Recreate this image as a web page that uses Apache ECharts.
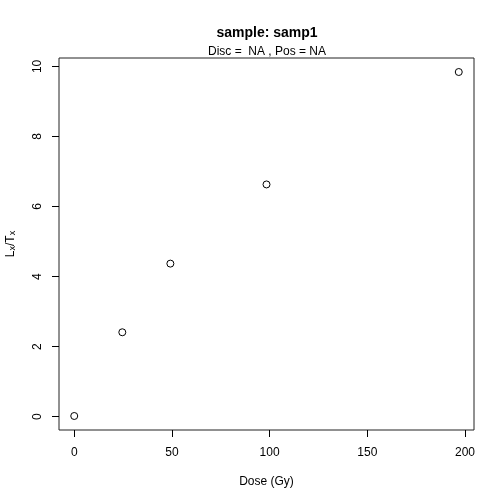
<!DOCTYPE html>
<html>
<head>
<meta charset="utf-8">
<script src="https://cdn.jsdelivr.net/npm/echarts@6/dist/echarts.min.js"></script>
<style>
html,body{margin:0;padding:0;background:#fff;}
#main{width:504px;height:504px;}
</style>
</head>
<body>
<div id="main"></div>
<script>
// dose points and Lx/Tx values
var dose = [0, 24.6, 49.2, 98.4, 196.8];
var ltx = [0.02, 2.41, 4.37, 6.63, 9.84];
var xTicks = [0, 50, 100, 150, 200];
var yTicks = [0, 2, 4, 6, 8, 10];

var font = 'Liberation Sans, Arial, Helvetica, sans-serif';
var myChart = echarts.init(document.getElementById('main'));

var pts = [];
for (var i = 0; i < dose.length; i++) {
	pts.push([dose[i], ltx[i]]);
}

var option = {
	animation: false,
	backgroundColor: '#fff',
	title: [
		{
			text: 'sample: samp1',
			left: 262, top: 21, textAlign: 'center',
			textStyle: {fontFamily: font, fontSize: 14, fontWeight: 'bold', color: '#000'}
		},
		{
			text: 'Disc =  NA , Pos = NA',
			left: 262, top: 41, textAlign: 'center',
			textStyle: {fontFamily: font, fontSize: 12, fontWeight: 'normal', color: '#000'}
		}
	],
	grid: {
		left: 59, right: 30, top: 58, bottom: 74,
		outerBoundsMode: 'none',
		containLabel: false,
		show: true, borderColor: '#222', borderWidth: 1, backgroundColor: 'transparent'
	},
	xAxis: {
		type: 'value',
		min: -7.8, max: 204.6,
		name: 'Dose (Gy)',
		nameLocation: 'middle',
		nameGap: 46,
		nameTextStyle: {fontFamily: font, fontSize: 12, color: '#000'},
		splitLine: {show: false},
		axisLine: {show: false, onZero: false},
		axisTick: {show: true, inside: false, length: 7, lineStyle: {color: '#000'}, customValues: xTicks},
		axisLabel: {fontFamily: font, fontSize: 12, color: '#000', margin: 17, customValues: xTicks}
	},
	yAxis: {
		type: 'value',
		min: -0.38, max: 10.24,
		name: '{a|L}{s|x}{a|/T}{s|x}',
		nameLocation: 'middle',
		nameGap: 42,
		nameRotate: 90,
		nameTextStyle: {
			fontFamily: font, color: '#000',
			rich: {
				a: {fontFamily: font, fontSize: 12, color: '#000', verticalAlign: 'bottom', lineHeight: 16},
				s: {fontFamily: font, fontSize: 9, color: '#000', verticalAlign: 'bottom', lineHeight: 12}
			}
		},
		splitLine: {show: false},
		axisLine: {show: false, onZero: false},
		axisTick: {show: true, inside: false, length: 7, lineStyle: {color: '#000'}, customValues: yTicks},
		axisLabel: {fontFamily: font, fontSize: 12, color: '#000', rotate: 90, margin: 15, customValues: yTicks}
	},
	series: [
		{
			type: 'scatter',
			data: pts,
			symbol: 'circle',
			symbolSize: 7,
			itemStyle: {color: 'rgba(255,255,255,0)', borderColor: '#000', borderWidth: 1, opacity: 1}
		}
	]
};
myChart.setOption(option);
</script>
</body>
</html>
